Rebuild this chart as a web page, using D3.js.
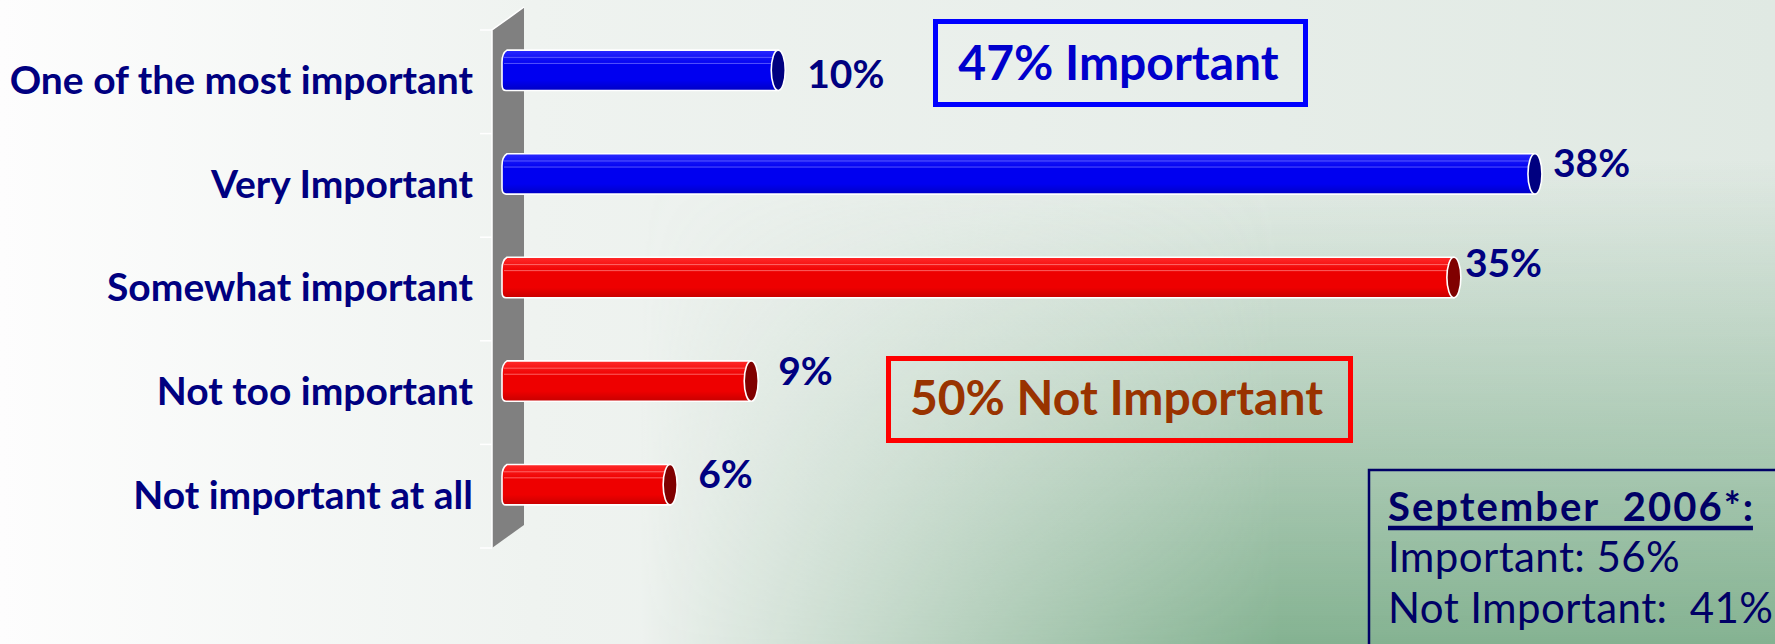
<!DOCTYPE html>
<html>
<head>
<meta charset="utf-8">
<script src="https://cdn.jsdelivr.net/npm/d3@7"></script>
<style>
  html, body { margin: 0; padding: 0; overflow: hidden; background: #ffffff; }
  svg { display: block; }
  text { font-family: Lato, "DejaVu Sans", sans-serif; }
</style>
</head>
<body>
<svg id="chart" width="1775" height="644"></svg>
<script>
// Survey answers, share of respondents (%)
const categories = [
  "One of the most important",
  "Very Important",
  "Somewhat important",
  "Not too important",
  "Not important at all"
];
const values = [10, 38, 35, 9, 6];
const groups = ["important", "important", "not", "not", "not"];

// Roll-up callouts and the earlier wave for comparison
const summaryLabels = ["47% Important", "50% Not Important"];
const priorTitle = "September  2006*:";
const priorLines = ["Important: 56%", "Not Important:  41%"];

const W = 1775, H = 644;
const svg = d3.select("#chart");
const defs = svg.append("defs");

// ---------- background wash: pale left, sage green toward lower right ----------
const bgLin = defs.append("linearGradient").attr("id", "bgLin")
  .attr("x1", 0).attr("y1", 0).attr("x2", 1).attr("y2", 0);
bgLin.append("stop").attr("offset", 0).attr("stop-color", "#fdfdfd");
bgLin.append("stop").attr("offset", 0.3).attr("stop-color", "#eff3f0");
bgLin.append("stop").attr("offset", 1).attr("stop-color", "#e0e9e3");

const hRamp = defs.append("linearGradient").attr("id", "hRamp")
  .attr("gradientUnits", "userSpaceOnUse")
  .attr("x1", 640).attr("y1", 0).attr("x2", 1280).attr("y2", 0);
hRamp.append("stop").attr("offset", 0).attr("stop-color", "#000");
hRamp.append("stop").attr("offset", 1).attr("stop-color", "#fff");
defs.append("mask").attr("id", "greenMask")
  .append("rect").attr("width", W).attr("height", H).attr("fill", "url(#hRamp)");

const vGreen = defs.append("linearGradient").attr("id", "vGreen")
  .attr("gradientUnits", "userSpaceOnUse")
  .attr("x1", 0).attr("y1", 160).attr("x2", 0).attr("y2", 644);
vGreen.append("stop").attr("offset", 0).attr("stop-color", "#86b393").attr("stop-opacity", 0);
vGreen.append("stop").attr("offset", 1).attr("stop-color", "#84b291").attr("stop-opacity", 1);

svg.append("rect").attr("width", W).attr("height", H).attr("fill", "url(#bgLin)");
svg.append("rect").attr("width", W).attr("height", H).attr("fill", "url(#vGreen)")
  .attr("mask", "url(#greenMask)");

// ---------- scales ----------
const y = d3.scaleBand().domain(categories).range([30, 548]);
const x = d3.scaleLinear().domain([0, 40]).range([515, 1596]);

const wallX = 492;          // front edge of the side wall
const depth = { dx: 32, dy: -23 };

// ---------- 3D side wall ----------
const [y0, y1] = y.range();
svg.append("path")
  .attr("d", `M${wallX},${y0} L${wallX + depth.dx},${y0 + depth.dy} L${wallX + depth.dx},${y1 + depth.dy} L${wallX},${y1} Z`)
  .attr("fill", "#808080");
svg.append("path")
  .attr("d", `M${wallX},${y1} L${wallX},${y0} L${wallX + depth.dx},${y0 + depth.dy}`)
  .attr("fill", "none").attr("stroke", "#ffffff").attr("stroke-width", 1.5);

// category axis with boundary ticks
const axis = svg.append("g").attr("transform", `translate(${wallX},0)`)
  .call(d3.axisLeft(y).tickSize(0).tickPadding(19));
axis.select(".domain").remove();
axis.selectAll("text")
  .attr("fill", "#000080")
  .attr("font-size", 39)
  .attr("font-weight", "bold");
const bounds = categories.map(c => y(c)).concat([y1]);
svg.append("g").selectAll("line").data(bounds).join("line")
  .attr("x1", wallX - 12).attr("x2", wallX)
  .attr("y1", d => d).attr("y2", d => d)
  .attr("stroke", "#ffffff").attr("stroke-width", 1.5);

// ---------- bar shading ----------
const palette = {
  important: { top: "#2a2aff", mid: "#0000f0", bot: "#0000c4", stripe: "#6a6aff", cap: "#000080" },
  not:       { top: "#ff2a2a", mid: "#ee0000", bot: "#c80000", stripe: "#ff7a7a", cap: "#800000" }
};
Object.entries(palette).forEach(([k, p]) => {
  const g = defs.append("linearGradient").attr("id", "bar-" + k)
    .attr("x1", 0).attr("y1", 0).attr("x2", 0).attr("y2", 1);
  g.append("stop").attr("offset", 0).attr("stop-color", p.top);
  g.append("stop").attr("offset", 0.35).attr("stop-color", p.mid);
  g.append("stop").attr("offset", 0.75).attr("stop-color", p.mid);
  g.append("stop").attr("offset", 1).attr("stop-color", p.bot);
});

// ---------- bars ----------
const barH = y.bandwidth() * 0.39;
const capRx = 7;
const barX0 = 502;
const rows = categories.map((c, i) => {
  const cy = y(c) + y.bandwidth() / 2 + depth.dy / 2;
  return { c, v: values[i], g: groups[i], cy, top: cy - barH / 2, bot: cy + barH / 2, xe: x(values[i]) };
});

const bars = svg.append("g").selectAll("g").data(rows).join("g");
bars.append("path")
  .attr("d", d => {
    const xc = d.xe - capRx;
    return `M${xc},${d.top} L${barX0 + 5},${d.top} Q${barX0},${d.top + 3} ${barX0},${d.top + 12}` +
           ` L${barX0},${d.bot - 6} Q${barX0},${d.bot} ${barX0 + 4},${d.bot} L${xc},${d.bot} Z`;
  })
  .attr("fill", d => `url(#bar-${d.g})`)
  .attr("stroke", "#ffffff").attr("stroke-width", 1.6);
[0.18, 0.33].forEach(f => {
  bars.append("line")
    .attr("x1", barX0 + 2).attr("x2", d => d.xe - capRx)
    .attr("y1", d => d.top + barH * f).attr("y2", d => d.top + barH * f)
    .attr("stroke", d => palette[d.g].stripe).attr("stroke-width", 1).attr("stroke-opacity", 0.8);
});
bars.append("ellipse")
  .attr("cx", d => d.xe - capRx).attr("cy", d => d.cy)
  .attr("rx", capRx).attr("ry", barH / 2)
  .attr("fill", d => palette[d.g].cap)
  .attr("stroke", "#ffffff").attr("stroke-width", 1.6);

// value labels, nudged the way the chart places them
const labelDx = [22, 11, 4, 20, 21];
const labelDy = [18, 3, -1, 4, 3];
bars.append("text")
  .attr("x", (d, i) => d.xe + labelDx[i])
  .attr("y", (d, i) => d.cy + labelDy[i])
  .attr("fill", "#000080").attr("font-size", 39).attr("font-weight", "bold")
  .text(d => d.v + "%");

// ---------- callout boxes ----------
const callouts = [
  { text: summaryLabels[0], box: [935.5, 21.5, 370, 83], stroke: "#0000ff", color: "#0000cc", tx: 1118.5, ty: 80 },
  { text: summaryLabels[1], box: [888.5, 358.5, 462, 82], stroke: "#ff0000", color: "#993300", tx: 1116.5, ty: 415 }
];
const cg = svg.append("g").selectAll("g").data(callouts).join("g");
cg.append("rect")
  .attr("x", d => d.box[0]).attr("y", d => d.box[1])
  .attr("width", d => d.box[2]).attr("height", d => d.box[3])
  .attr("fill", "none").attr("stroke", d => d.stroke).attr("stroke-width", 5);
cg.append("text")
  .attr("x", d => d.tx).attr("y", d => d.ty)
  .attr("text-anchor", "middle")
  .attr("fill", d => d.color).attr("font-size", 48).attr("font-weight", "bold")
  .text(d => d.text);

// ---------- earlier wave box ----------
const pg = svg.append("g");
pg.append("rect").attr("x", 1369).attr("y", 470).attr("width", 600).attr("height", 300)
  .attr("fill", "none").attr("stroke", "#000066").attr("stroke-width", 2.5);
const title = pg.append("text").attr("x", 1388).attr("y", 521)
  .attr("fill", "#000066").attr("font-size", 40).attr("font-weight", "bold")
  .attr("letter-spacing", 2)
  .style("white-space", "pre")
  .text(priorTitle);
const tw = title.node().getComputedTextLength();
pg.append("line").attr("x1", 1388).attr("x2", 1388 + tw - 2)
  .attr("y1", 528).attr("y2", 528)
  .attr("stroke", "#000066").attr("stroke-width", 4.5);
pg.selectAll("text.line").data(priorLines).join("text").attr("class", "line")
  .attr("x", 1388).attr("y", (d, i) => 572 + i * 51)
  .attr("fill", "#000066").attr("font-size", 42)
  .attr("letter-spacing", 0.4)
  .style("white-space", "pre")
  .text(d => d);
</script>
</body>
</html>
